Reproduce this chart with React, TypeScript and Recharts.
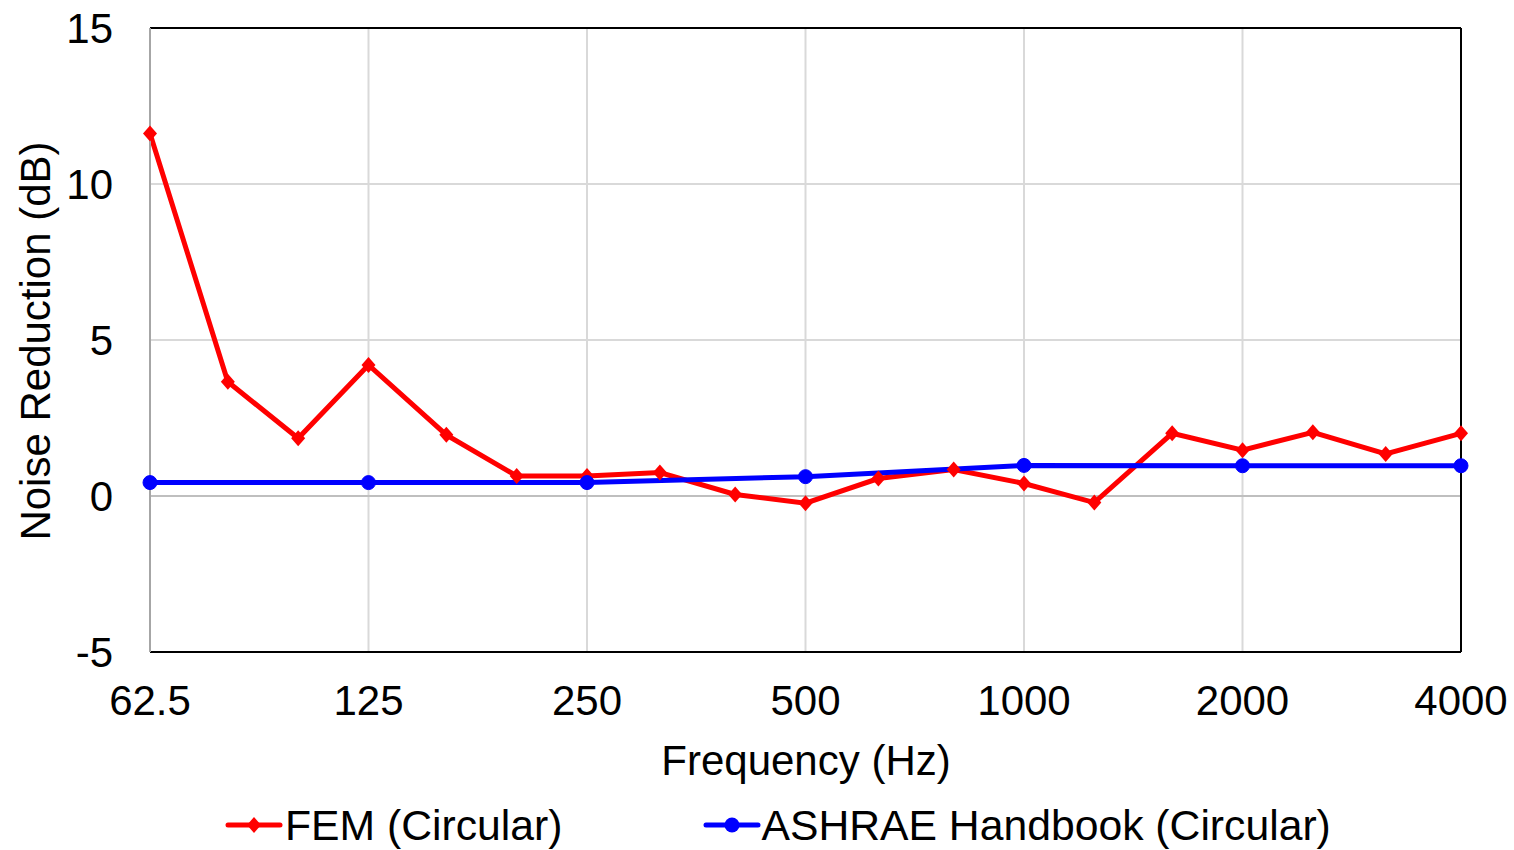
import { Label, Line, LineChart, CartesianGrid, ReferenceLine, XAxis, YAxis } from "recharts";

const femFreq = [62.5, 80, 100, 125, 160, 200, 250, 315, 400, 500, 630, 800, 1000, 1250, 1600, 2000, 2500, 3150, 4000];
const femValues = [11.62, 3.66, 1.85, 4.2, 1.96, 0.64, 0.64, 0.75, 0.05, -0.23, 0.56, 0.85, 0.4, -0.21, 2.01, 1.47, 2.04, 1.35, 2.01];

const ashraeFreq = [62.5, 125, 250, 500, 1000, 2000, 4000];
const ashraeValues = [0.43, 0.43, 0.43, 0.62, 0.98, 0.97, 0.97];

const xTicks = [62.5, 125, 250, 500, 1000, 2000, 4000];
const yTicks = [-5, 0, 5, 10, 15];

const FONT = "'Liberation Sans', Arial, sans-serif";
const FS = 42;
const RED = "#ff0000";
const BLUE = "#0000ff";

const femData = femFreq.map((f, i) => ({ f, v: femValues[i] }));
const ashraeData = ashraeFreq.map((f, i) => ({ f, v: ashraeValues[i] }));

const Diamond = (p: any) => {
  const { cx, cy } = p;
  if (cx == null || cy == null) return null;
  return <polygon points={`${cx},${cy - 8} ${cx + 7},${cy} ${cx},${cy + 8} ${cx - 7},${cy}`} fill={RED} />;
};

const LegendBox = () => (
  <div
    style={{
      position: "absolute",
      left: 225,
      top: 801,
      display: "flex",
      alignItems: "center",
      fontFamily: FONT,
      fontSize: 42.7,
      color: "#000",
      lineHeight: "48px",
      whiteSpace: "nowrap",
    }}
  >
    <svg width={58} height={20} style={{ marginRight: 2 }}>
      <line x1={3} y1={10} x2={55} y2={10} stroke={RED} strokeWidth={5} strokeLinecap="round" />
      <polygon points="29,2 36,10 29,18 22,10" fill={RED} />
    </svg>
    <span>FEM (Circular)</span>
    <svg width={58} height={20} style={{ marginLeft: 141, marginRight: 0 }}>
      <line x1={3} y1={10} x2={55} y2={10} stroke={BLUE} strokeWidth={5} strokeLinecap="round" />
      <circle cx={29} cy={10} r={7.5} fill={BLUE} />
    </svg>
    <span>ASHRAE Handbook (Circular)</span>
  </div>
);

export default function App() {
  return (
    <div style={{ position: "absolute", left: 0, top: 0, width: 1514, height: 850, background: "#fff" }}>
      <LineChart width={1514} height={850} margin={{ top: 28, right: 53, bottom: 168, left: 0 }}>
        <CartesianGrid stroke="#d9d9d9" strokeWidth={2} />
        <XAxis
          type="number"
          dataKey="f"
          scale="log"
          domain={[62.5, 4000]}
          ticks={xTicks}
          height={30}
          tickLine={false}
          tickSize={0}
          tickMargin={33}
          axisLine={{ stroke: "#000", strokeWidth: 2 }}
          tick={{ fontSize: FS, fill: "#000", fontFamily: FONT }}
          interval={0}
        >
          <Label
            content={() => (
              <text x={806} y={775} textAnchor="middle" fontSize={FS} fontFamily={FONT} fill="#000">
                Frequency (Hz)
              </text>
            )}
          />
        </XAxis>
        <YAxis
          type="number"
          domain={[-5, 15]}
          ticks={yTicks}
          width={150}
          tickLine={false}
          tickSize={0}
          tickMargin={37}
          axisLine={{ stroke: "#a6a6a6", strokeWidth: 2 }}
          tick={{ fontSize: FS, fill: "#000", fontFamily: FONT }}
        >
          <Label
            content={() => (
              <text
                x={0}
                y={0}
                transform="translate(50,341) rotate(-90)"
                textAnchor="middle"
                fontSize={FS}
                fontFamily={FONT}
                fill="#000"
              >
                Noise Reduction (dB)
              </text>
            )}
          />
        </YAxis>
        <ReferenceLine y={0} stroke="#bfbfbf" strokeWidth={2} />
        <ReferenceLine y={15} stroke="#000" strokeWidth={2} />
        <ReferenceLine x={4000} stroke="#000" strokeWidth={2} />
        <Line
          data={femData}
          dataKey="v"
          stroke={RED}
          strokeWidth={5}
          dot={<Diamond />}
          activeDot={false}
          isAnimationActive={false}
          name="FEM (Circular)"
        />
        <Line
          data={ashraeData}
          dataKey="v"
          stroke={BLUE}
          strokeWidth={5}
          dot={{ r: 7, fill: BLUE, stroke: BLUE, strokeWidth: 1 }}
          activeDot={false}
          isAnimationActive={false}
          name="ASHRAE Handbook (Circular)"
        />
      </LineChart>
      <LegendBox />
    </div>
  );
}
